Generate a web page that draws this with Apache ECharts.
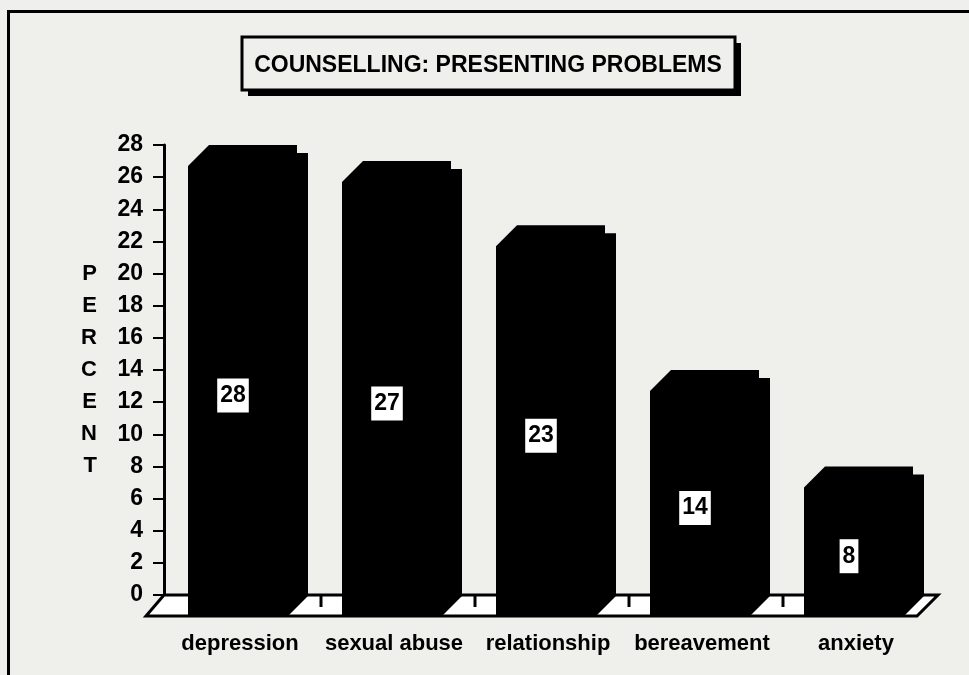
<!DOCTYPE html>
<html>
<head>
<meta charset="utf-8">
<script src="https://cdn.jsdelivr.net/npm/echarts@6/dist/echarts.min.js"></script>
<style>
  html, body { margin: 0; padding: 0; background: #efefec; }
  #chart { width: 969px; height: 675px; }
</style>
</head>
<body>
<div id="chart"></div>
<script>
// 数据
var categories = ['depression', 'sexual abuse', 'relationship', 'bereavement', 'anxiety'];
var percents = [28, 27, 23, 14, 8];
var yTicks = [0, 28, 2]; // min, max, interval

var FONT = 'Liberation Sans';
var chart = echarts.init(document.getElementById('chart'));

// 3D柱子的轮廓
function renderBar(params, api) {
    var idx = api.value(0);
    var top = api.coord([idx, api.value(1)]);
    var base = api.coord([idx, 0]);
    var c = top[0], yT = top[1], y0 = base[1];
    var x0 = c - 60, x1 = c + 60;
    var pts = [
        [x0, y0 + 22],
        [x0, yT + 21],
        [x0 + 21, yT],
        [x1 - 11, yT],
        [x1 - 11, yT + 8],
        [x1, yT + 8],
        [x1, y0 + 1],
        [x1 - 21, y0 + 22]
    ];
    var labelY = (yT + 21 + y0 + 22) / 2 + 4;
    return {
        type: 'group',
        children: [
            { type: 'polygon', shape: { points: pts }, style: { fill: '#000' } },
            {
                type: 'text',
                x: c - 15, y: labelY,
                style: {
                    text: String(api.value(1)),
                    fill: '#000',
                    font: 'bold 23px ' + FONT,
                    align: 'center',
                    verticalAlign: 'middle',
                    backgroundColor: '#fff',
                    padding: [6, 3, 5, 3]
                }
            }
        ]
    };
}

// 地板 (平行四边形 + 刻度)
function renderFloor(params, api) {
    var cs = params.coordSys;
    var y0 = api.coord([0, 0])[1];
    var left = cs.x - 7, right = cs.x + cs.width - 3;
    var band = cs.width / categories.length;
    var children = [{
        type: 'polygon',
        shape: { points: [[left, y0], [left - 18, y0 + 21], [right - 21, y0 + 21], [right, y0]] },
        style: { fill: '#fff', stroke: '#000', lineWidth: 3 }
    }];
    for (var i = 1; i < categories.length; i++) {
        var tx = cs.x + band * i - 4;
        children.push({
            type: 'line',
            shape: { x1: tx, y1: y0 + 1, x2: tx, y2: y0 + 12 },
            style: { stroke: '#000', lineWidth: 3 }
        });
    }
    return { type: 'group', children: children };
}

var option = {
    backgroundColor: '#efefec',
    animation: false,
    grid: { left: 171, right: 28, top: 145, bottom: 80 },
    xAxis: {
        type: 'category',
        data: categories,
        axisLine: { show: false },
        axisTick: { show: false },
        axisLabel: {
            interval: 0,
            hideOverlap: false,
            margin: 38,
            color: '#000',
            fontFamily: FONT,
            fontWeight: 'bold',
            fontSize: 22,
            padding: [0, 16, 0, 0]
        }
    },
    yAxis: {
        type: 'value',
        min: yTicks[0],
        max: yTicks[1],
        interval: yTicks[2],
        offset: 7,
        name: 'P\nE\nR\nC\nE\nN\nT',
        nameLocation: 'middle',
        nameRotate: 0,
        nameGap: 67,
        nameTextStyle: {
            color: '#000',
            fontFamily: FONT,
            fontWeight: 'bold',
            fontSize: 22,
            lineHeight: 32,
            padding: [14, 0, 0, 0]
        },
        splitLine: { show: false },
        axisLine: { show: true, lineStyle: { color: '#000', width: 3 } },
        axisTick: { show: true, length: 11, lineStyle: { color: '#000', width: 2 } },
        axisLabel: {
            margin: 21,
            color: '#000',
            fontFamily: FONT,
            fontWeight: 'bold',
            fontSize: 23
        }
    },
    graphic: [
        // 外框
        { type: 'rect', left: 6, top: 9, shape: { width: 990, height: 700 },
          style: { fill: 'none', stroke: '#000', lineWidth: 3 }, z: 100 },
        // 标题阴影
        { type: 'rect', x: 248, y: 43, shape: { width: 493, height: 53 },
          style: { fill: '#000' }, z: 100 },
        // 标题框
        { type: 'rect', x: 242, y: 37, shape: { width: 493, height: 53 },
          style: { fill: '#efefec', stroke: '#000', lineWidth: 3 }, z: 101 },
        { type: 'text', x: 488, y: 66, z: 102,
          style: { text: 'COUNSELLING: PRESENTING PROBLEMS', fill: '#000',
                   font: 'bold 23px ' + FONT, align: 'center', verticalAlign: 'middle' } }
    ],
    series: [
        {
            name: 'floor',
            type: 'custom',
            renderItem: renderFloor,
            data: [[0, 0]],
            clip: false,
            z: 1,
            silent: true
        },
        {
            name: 'percent',
            type: 'custom',
            renderItem: renderBar,
            data: categories.map(function (c, i) { return [i, percents[i]]; }),
            encode: { x: 0, y: 1 },
            clip: false,
            z: 2
        }
    ]
};

//渲染图表
if (option && typeof option === "object") {
    chart.setOption(option, true);
}
</script>
</body>
</html>
